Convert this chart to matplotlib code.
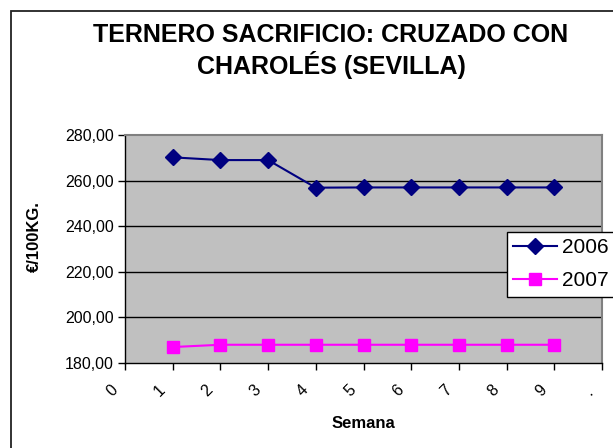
import matplotlib
matplotlib.use("Agg")
import matplotlib.pyplot as plt
from matplotlib.patches import Rectangle
from matplotlib.transforms import ScaledTranslation

plt.rcParams['font.family'] = ['Liberation Sans', 'DejaVu Sans']

# ---- data ----
semana = [1, 2, 3, 4, 5, 6, 7, 8, 9]
precio_2006 = [270.2, 269.0, 269.0, 256.9, 257.0, 257.0, 257.0, 257.0, 257.0]
precio_2007 = [187.0, 188.0, 188.0, 188.0, 188.0, 188.0, 188.0, 188.0, 188.0]
series_labels = ["2006", "2007"]
x_tick_pos = [0, 1, 2, 3, 4, 5, 6, 7, 8, 9, 10]
x_tick_labels = ["0", "1", "2", "3", "4", "5", "6", "7", "8", "9", "."]
y_ticks = [180, 200, 220, 240, 260, 280]
y_tick_labels = ["180,00", "200,00", "220,00", "240,00", "260,00", "280,00"]
title = "TERNERO SACRIFICIO: CRUZADO CON\nCHAROLÉS (SEVILLA)"
x_label = "Semana"
y_label = "€/100KG."

W, H = 613, 448
fig = plt.figure(figsize=(W / 100, H / 100), dpi=100)
fig.patch.set_facecolor("white")

# outer chart frame (cropped on right / bottom)
fig.add_artist(Rectangle((11 / W, -0.1), 1.2, 1 - 11 / H + 0.1,
                         transform=fig.transFigure, fill=False,
                         edgecolor="#222222", linewidth=1.3))

L, R, T, B = 125, 602, 135, 363
ax = fig.add_axes([L / W, (H - B) / H, (R - L) / W, (B - T) / H])
ax.set_facecolor("#C0C0C0")
ax.set_xlim(0, 10)
ax.set_ylim(180, 280)

for yv in y_ticks[1:-1]:
    ax.axhline(yv, color="black", linewidth=1.0, zorder=1)

ax.plot(semana, precio_2006, color="#000080", linewidth=1.5, marker="D",
        markersize=8, markerfacecolor="#000080", markeredgecolor="#000080",
        label=series_labels[0], zorder=3)
ax.plot(semana, precio_2007, color="#FF00FF", linewidth=1.5, marker="s",
        markersize=9, markerfacecolor="#FF00FF", markeredgecolor="#FF00FF",
        label=series_labels[1], zorder=3)

for s in ["top", "right"]:
    ax.spines[s].set_color("#808080")
    ax.spines[s].set_linewidth(1.5)
for s in ["left", "bottom"]:
    ax.spines[s].set_color("black")
    ax.spines[s].set_linewidth(1.0)

ax.set_yticks(y_ticks)
ax.set_yticklabels(y_tick_labels, fontsize=11.5)
ax.set_xticks(x_tick_pos)
ax.set_xticklabels([])
ax.tick_params(axis="both", direction="out", length=5, width=1, color="black")
ax.tick_params(axis="y", pad=3)

# rotated x tick labels
for xp, lab in zip(x_tick_pos, x_tick_labels):
    off = ScaledTranslation(-13 / 100, -28 / 100, fig.dpi_scale_trans)
    ax.text(xp, 0, lab, transform=ax.get_xaxis_transform() + off,
            rotation=45, rotation_mode="anchor", ha="center", va="center",
            fontsize=11.5, clip_on=False)

fig.text(331 / W, 1 - 51 / H, title, ha="center", va="center",
         fontsize=18, fontweight="bold", linespacing=1.15)
fig.text(363 / W, 1 - 423 / H, x_label, ha="center", va="center",
         fontsize=12, fontweight="bold")
fig.text(34 / W, 1 - 237 / H, y_label, ha="center", va="center",
         rotation=90, fontsize=12, fontweight="bold")

leg = ax.legend(loc="upper left", bbox_to_anchor=(507 / W, 1 - 232 / H),
                bbox_transform=fig.transFigure, fontsize=15, frameon=True,
                fancybox=False, edgecolor="black", facecolor="white",
                framealpha=1, borderpad=0.3, labelspacing=0.68,
                handlelength=2.1, handletextpad=0.25, borderaxespad=0)
leg.get_frame().set_linewidth(1.0)

fig.savefig("out.png", dpi=100)
